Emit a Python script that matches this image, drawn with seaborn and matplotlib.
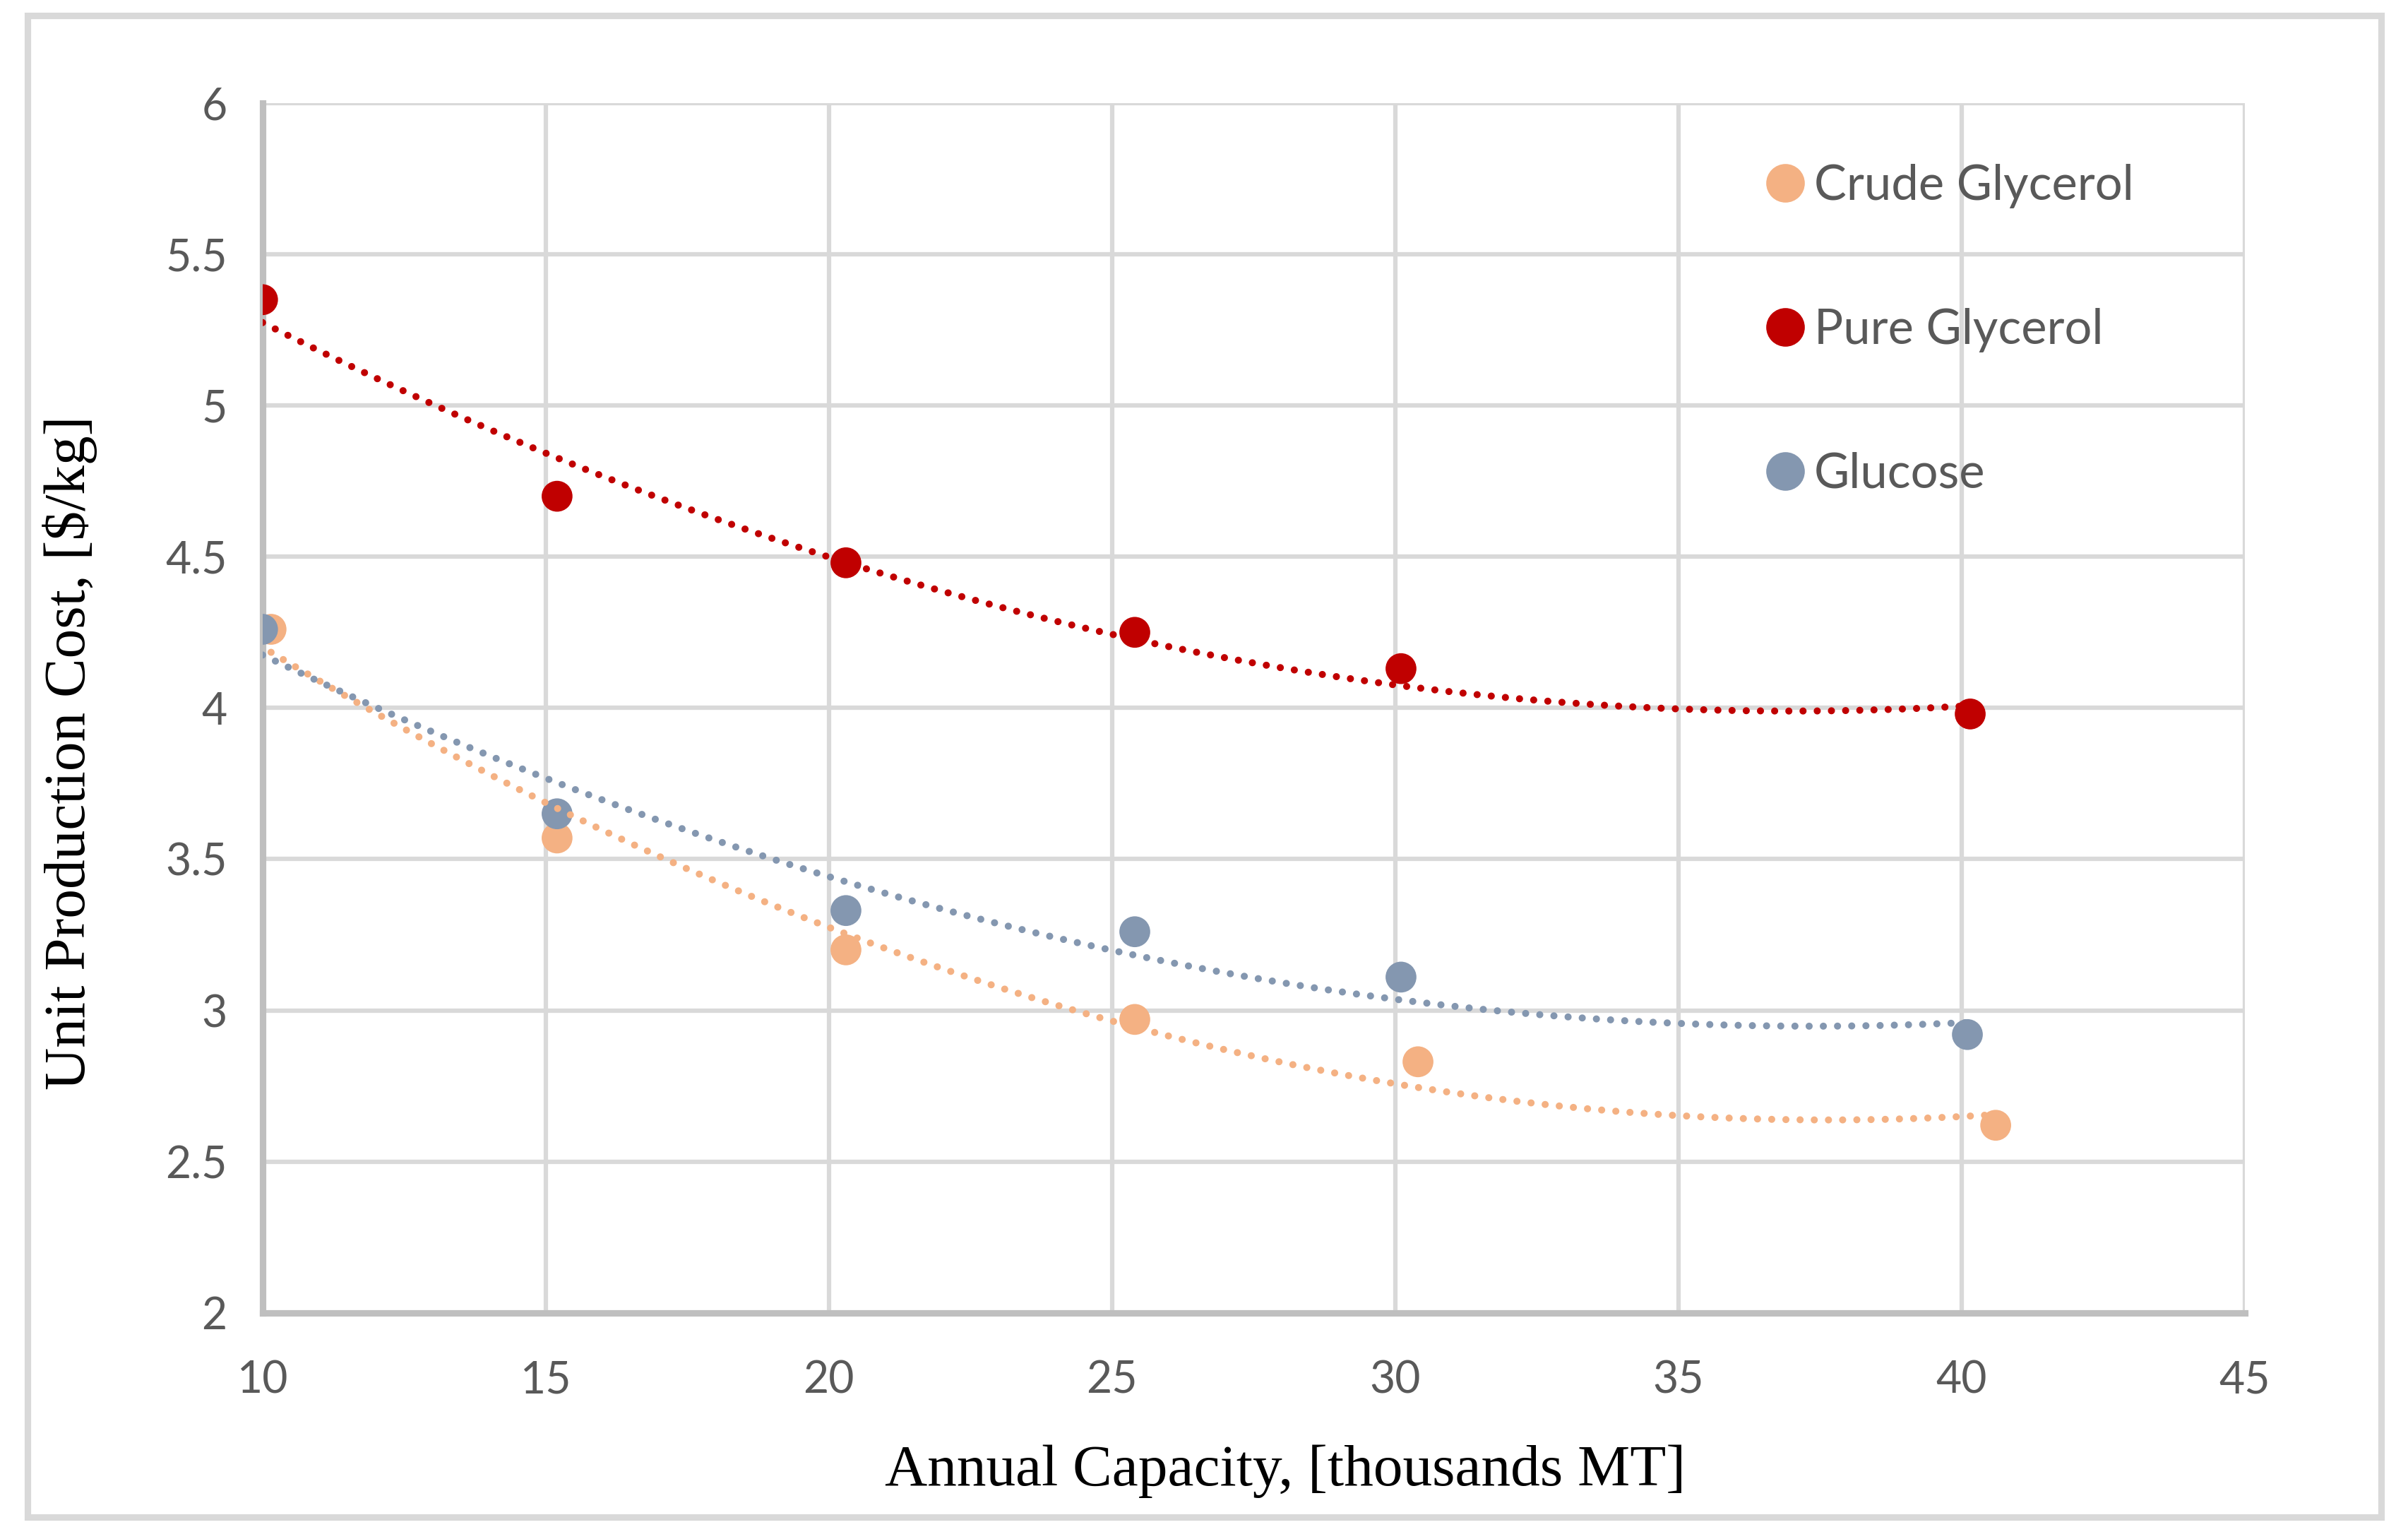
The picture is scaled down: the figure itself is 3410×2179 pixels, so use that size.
import numpy as np
import pandas as pd
import matplotlib.pyplot as plt
import seaborn as sns
from matplotlib.patches import Rectangle

# Datos
series = ['Crude Glycerol', 'Pure Glycerol', 'Glucose']
crude_x = [10.15, 15.2, 20.3, 25.4, 30.4, 40.6]
crude_y = [4.26, 3.57, 3.20, 2.97, 2.83, 2.62]
pure_x = [10.0, 15.2, 20.3, 25.4, 30.1, 40.15]
pure_y = [5.35, 4.70, 4.48, 4.25, 4.13, 3.98]
glucose_x = [10.0, 15.2, 20.3, 25.4, 30.1, 40.1]
glucose_y = [4.26, 3.65, 3.33, 3.26, 3.11, 2.92]
colors = ['#F4B183', '#C00000', '#8497B0']
x_ticks = [10, 15, 20, 25, 30, 35, 40, 45]
y_ticks = [2, 2.5, 3, 3.5, 4, 4.5, 5, 5.5, 6]

df = pd.DataFrame({
    'capacity': crude_x + pure_x + glucose_x,
    'cost': crude_y + pure_y + glucose_y,
    'feed': [series[0]] * len(crude_x) + [series[1]] * len(pure_x) + [series[2]] * len(glucose_x),
})

sns.set_theme(style='white')
plt.rcParams['font.family'] = ['Lato', 'DejaVu Sans']

fig = plt.figure(figsize=(3411 / 300, 2179 / 300), dpi=300)
ax = fig.add_axes([0.109, 0.147, 0.823, 0.786])

sns.scatterplot(data=df, x='capacity', y='cost', hue='feed', hue_order=series,
                palette=colors, s=110, linewidth=0, ax=ax, zorder=3)

# lineas de tendencia polinomiales (orden 2), como en Excel
for xs, ys, c in zip([crude_x, pure_x, glucose_x], [crude_y, pure_y, glucose_y], colors):
    coef = np.polyfit(xs, ys, 2)
    xx = np.linspace(min(xs), max(xs), 300)
    ax.plot(xx, np.polyval(coef, xx), color=c, lw=2.4, ls=(0, (0.01, 2.0)),
            dash_capstyle='round', zorder=4)

ax.set_xlim(10, 45)
ax.set_ylim(2, 6)
ax.set_xticks(x_ticks)
ax.set_yticks(y_ticks)
ax.set_yticklabels([f'{v:g}' for v in y_ticks])
ax.grid(True, color='#D9D9D9', lw=1.5, zorder=0)
ax.set_axisbelow(True)
for side in ['top', 'right']:
    ax.spines[side].set_visible(False)
for side in ['left', 'bottom']:
    ax.spines[side].set_color('#BFBFBF')
    ax.spines[side].set_linewidth(2.2)
ax.tick_params(axis='both', length=0, labelsize=15, colors='#595959')
ax.tick_params(axis='x', pad=16)
ax.tick_params(axis='y', pad=12)

ax.set_xlabel('Annual Capacity, [thousands MT]', fontsize=20, family='Liberation Serif',
              color='black', va='center')
ax.set_ylabel('Unit Production Cost, [$/kg]', fontsize=20, family='Liberation Serif',
              color='black', va='center')
ax.xaxis.set_label_coords(0.516, -0.131)
ax.yaxis.set_label_coords(-0.097, 0.463)

sns.move_legend(ax, 'upper left', bbox_to_anchor=(0.746, 0.966), frameon=False,
                title=None, fontsize=16.5, labelspacing=2.05, handletextpad=0.1,
                handlelength=1.0, markerscale=1.25, borderaxespad=0)
for t in ax.get_legend().get_texts():
    t.set_color('#595959')

fig.patches.append(Rectangle((0.0115, 0.014), 0.977, 0.976, transform=fig.transFigure,
                             fill=False, edgecolor='#D9D9D9', lw=2.2))

fig.savefig('out.png', dpi=300)
